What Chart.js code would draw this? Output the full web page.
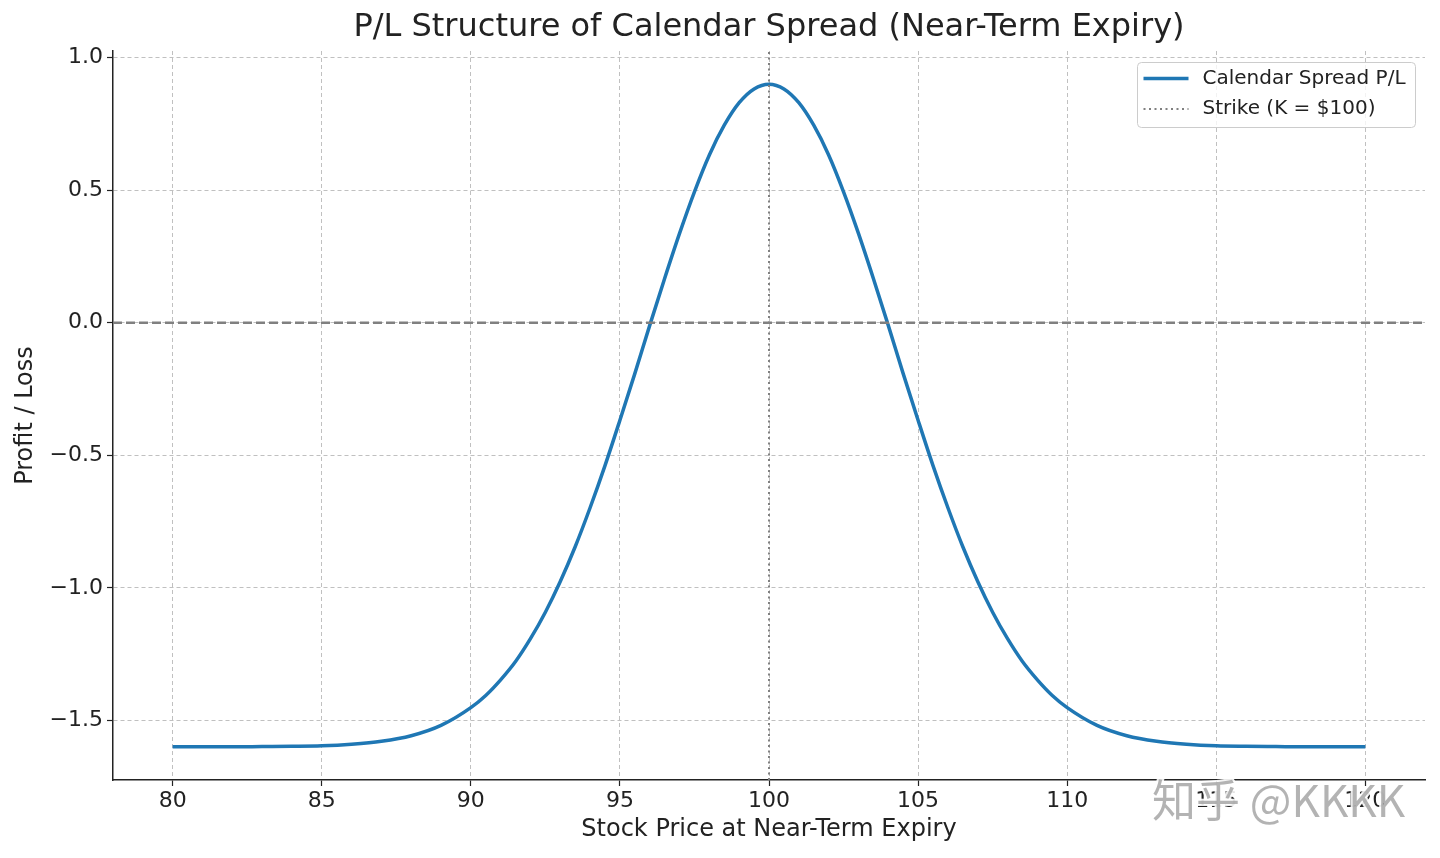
<!DOCTYPE html>
<html lang="en">
<head>
    <meta charset="UTF-8">
    <title>P/L Structure of Calendar Spread (Near-Term Expiry)</title>
    <script src="https://cdn.jsdelivr.net/npm/chart.js"></script>
    <style>
        body { margin: 0; background: #fff; }
        #wrap { width: 1440px; height: 858px; }
    </style>
</head>
<body>
    <div id="wrap"><canvas id="grafico"></canvas></div>

    <script>
        // valores
        const precios = [80, 81, 82, 83, 84, 85, 86, 87, 88, 89,
            90, 90.5, 91, 91.5, 92, 92.5, 93, 93.5, 94, 94.5,
            95, 95.5, 96, 96.5, 97, 97.5, 98, 98.5, 99, 99.5,
            100, 100.5, 101, 101.5, 102, 102.5, 103, 103.5, 104, 104.5,
            105, 105.5, 106, 106.5, 107, 107.5, 108, 108.5, 109, 109.5,
            110, 111, 112, 113, 114, 115, 116, 117, 118, 119, 120];
        const pl = [-1.600, -1.600, -1.600, -1.599, -1.598, -1.596, -1.590, -1.579, -1.558, -1.519,
            -1.452, -1.406, -1.347, -1.278, -1.192, -1.092, -0.976, -0.845, -0.698, -0.539,
            -0.368, -0.192, -0.010, 0.167, 0.337, 0.494, 0.633, 0.745, 0.830, 0.882,
            0.900, 0.882, 0.830, 0.745, 0.633, 0.494, 0.337, 0.167, -0.010, -0.192,
            -0.368, -0.539, -0.698, -0.845, -0.976, -1.092, -1.192, -1.278, -1.347, -1.406,
            -1.452, -1.519, -1.558, -1.579, -1.590, -1.596, -1.598, -1.599, -1.600, -1.600, -1.600];
        const strike = 100;
        const xTicks = [80, 85, 90, 95, 100, 105, 110, 115, 120];
        const yTicks = [-1.5, -1.0, -0.5, 0.0, 0.5, 1.0];
        const xLim = [78, 122];
        const yLim = [-1.725, 1.025];
        const titulo = "P/L Structure of Calendar Spread (Near-Term Expiry)";

        const azul = "#1f77b4";
        const gris = "#808080";
        const texto = "#222222";
        Chart.defaults.font.family = "'DejaVu Sans', sans-serif";
        Chart.defaults.color = texto;

        // titulo centrado sobre los ejes, leyenda estilo matplotlib y marca de agua
        const extras = {
            id: "extras",
            afterDraw(chart) {
                const ctx = chart.ctx;
                const area = chart.chartArea;
                const items = chart.data.datasets.filter(d => d.enLeyenda);

                ctx.save();
                ctx.font = "32px 'DejaVu Sans'";
                ctx.fillStyle = texto;
                ctx.textAlign = "center";
                ctx.textBaseline = "middle";
                ctx.fillText(titulo, (area.left + area.right) / 2, 28);
                ctx.textAlign = "left";

                const w = 278, h = 65;
                const x0 = area.right - 10 - w + 0.5, y0 = area.top + 11.5;
                ctx.beginPath();
                ctx.roundRect(x0, y0, w, h, 4);
                ctx.fillStyle = "rgba(255,255,255,0.8)";
                ctx.fill();
                ctx.strokeStyle = "#cccccc";
                ctx.lineWidth = 1;
                ctx.stroke();

                ctx.font = "20px 'DejaVu Sans'";
                items.forEach((d, i) => {
                    const y = y0 + 16 + i * 30.5;
                    ctx.beginPath();
                    ctx.setLineDash(d.borderDash || []);
                    ctx.strokeStyle = d.borderColor;
                    ctx.lineWidth = d.borderWidth;
                    ctx.moveTo(x0 + 6, y);
                    ctx.lineTo(x0 + 51, y);
                    ctx.stroke();
                    ctx.setLineDash([]);
                    ctx.fillStyle = texto;
                    ctx.fillText(d.label, x0 + 65, y);
                });

                ctx.font = "44px 'Noto Sans CJK SC'";
                ctx.lineWidth = 4;
                ctx.strokeStyle = "rgba(255,255,255,0.9)";
                ctx.fillStyle = "rgba(160,160,160,0.8)";
                ctx.strokeText("知乎 @KKKK", area.right - 273, area.bottom + 20);
                ctx.fillText("知乎 @KKKK", area.right - 273, area.bottom + 20);
                ctx.restore();
            }
        };

        new Chart(document.getElementById("grafico"), {
            type: "line",
            data: {
                datasets: [
                    {
                        label: "Calendar Spread P/L",
                        data: precios.map((p, i) => ({ x: p, y: pl[i] })),
                        borderColor: azul,
                        borderWidth: 3.5,
                        pointRadius: 0,
                        cubicInterpolationMode: "monotone",
                        enLeyenda: true,
                        order: 3
                    },
                    {
                        label: "cero",
                        data: [{ x: xLim[0], y: 0 }, { x: xLim[1], y: 0 }],
                        borderColor: gris,
                        borderWidth: 2.5,
                        borderDash: [9, 4],
                        pointRadius: 0,
                        order: 2
                    },
                    {
                        label: "Strike (K = $100)",
                        data: [{ x: strike, y: yLim[0] }, { x: strike, y: yLim[1] }],
                        borderColor: gris,
                        borderWidth: 2,
                        borderDash: [2, 3.5],
                        pointRadius: 0,
                        enLeyenda: true,
                        order: 1
                    }
                ]
            },
            options: {
                responsive: true,
                maintainAspectRatio: false,
                animation: false,
                layout: { padding: { right: 15, top: 51 } },
                plugins: {
                    legend: { display: false },
                    tooltip: { enabled: false },
                    title: { display: false }
                },
                scales: {
                    x: {
                        type: "linear",
                        min: xLim[0],
                        max: xLim[1],
                        afterBuildTicks: s => { s.ticks = xTicks.map(v => ({ value: v })); },
                        afterFit: s => { s.height = 78; },
                        ticks: { font: { size: 22 }, color: texto, padding: 2 },
                        grid: {
                            color: "rgba(176,176,176,0.8)",
                            lineWidth: 1,
                            tickLength: 6,
                            tickColor: texto,
                            tickWidth: 1.2,
                            tickBorderDash: []
                        },
                        border: { display: true, color: texto, width: 1.5, dash: [4, 3] },
                        title: {
                            display: true,
                            text: "Stock Price at Near-Term Expiry",
                            color: texto,
                            font: { size: 24 },
                            padding: { top: 0, bottom: 13.6 }
                        }
                    },
                    y: {
                        type: "linear",
                        min: yLim[0],
                        max: yLim[1],
                        afterBuildTicks: s => { s.ticks = yTicks.map(v => ({ value: v })); },
                        afterFit: s => { s.width = 113; },
                        ticks: {
                            font: { size: 22 },
                            color: texto,
                            padding: 4,
                            callback: v => v.toFixed(1).replace("-", "\u2212")
                        },
                        grid: {
                            color: "rgba(176,176,176,0.8)",
                            lineWidth: 1,
                            tickLength: 6,
                            tickColor: texto,
                            tickWidth: 1.2,
                            tickBorderDash: []
                        },
                        border: { display: true, color: texto, width: 1.5, dash: [4, 3] },
                        title: {
                            display: true,
                            text: "Profit / Loss",
                            color: texto,
                            font: { size: 24 },
                            padding: { top: 11, bottom: 0 }
                        }
                    }
                }
            },
            plugins: [extras]
        });
    </script>
</body>
</html>
